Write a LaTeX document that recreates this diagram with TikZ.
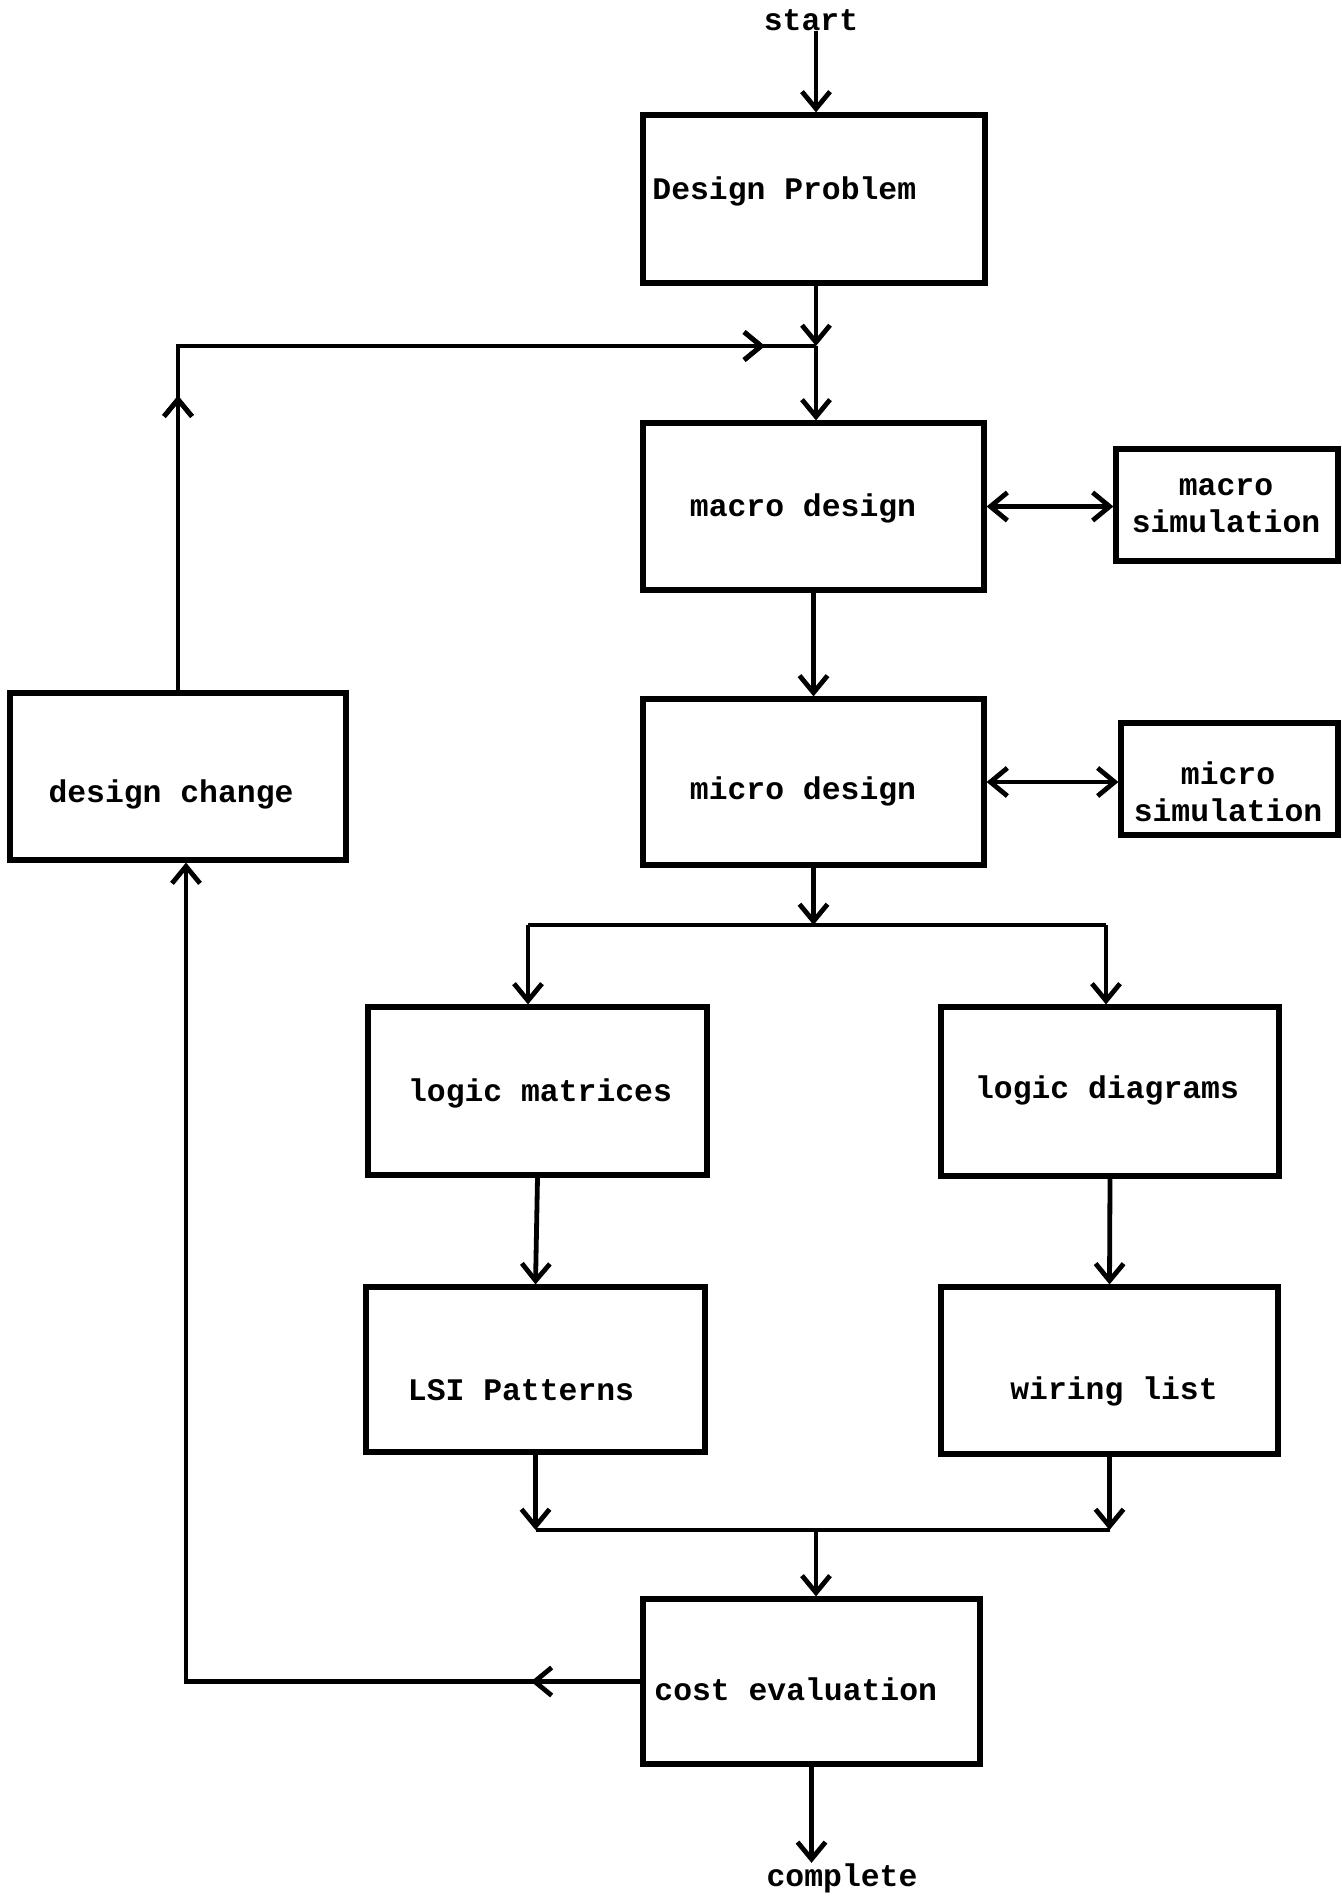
\documentclass[tikz,border=0pt]{standalone}
\usepackage{fontspec}
\setmonofont{Liberation Mono}
\usetikzlibrary{arrows.meta,decorations.markings}
\begin{document}
\begin{tikzpicture}[x=0.5pt,y=-0.5pt,
  box/.style={draw, line width=2.6pt, inner sep=0pt},
  lbl/.style={font=\ttfamily\bfseries\fontsize{15.7}{18.5}\selectfont, inner sep=0pt},
  conn/.style={line width=2.4pt},
  tip/.tip={Straight Barb[length=8.5pt,width=14pt]},
  arr/.style={-tip},
  midarr/.style={postaction={decorate}, decoration={markings, mark=at position #1 with {\arrow{tip}}}}
]
\useasboundingbox (0,0) rectangle (1341,1899);

% boxes
\node[box, minimum width=171pt, minimum height=84pt] (dp) at (814,199) {};
\node[box, minimum width=170.5pt, minimum height=83.5pt] (macro) at (813.5,506.5) {};
\node[box, minimum width=111pt, minimum height=56pt] (msim) at (1227,505) {};
\node[box, minimum width=170.5pt, minimum height=83pt] (micro) at (813.5,782) {};
\node[box, minimum width=108.5pt, minimum height=56pt] (usim) at (1229.5,779) {};
\node[box, minimum width=168pt, minimum height=83.5pt] (dc) at (178,776.5) {};
\node[box, minimum width=169.5pt, minimum height=84pt] (lm) at (537.5,1091) {};
\node[box, minimum width=169pt, minimum height=84.5pt] (ld) at (1110,1091.5) {};
\node[box, minimum width=169.5pt, minimum height=82.5pt] (lsi) at (535.5,1369.5) {};
\node[box, minimum width=168.5pt, minimum height=83.5pt] (wl) at (1109.5,1370.5) {};
\node[box, minimum width=168.5pt, minimum height=82.5pt] (ce) at (811.5,1681.5) {};

% texts
\node[lbl, anchor=base] (tstart) at (811,31) {start};
\node[lbl, anchor=base west] (tdp) at (652,200) {Design Problem};
\node[lbl, anchor=base] (tmacro) at (803,516) {macro design};
\node[lbl, align=center] (tmsim) at (1226,506) {macro\\simulation};
\node[lbl, anchor=base] (tmicro) at (803,799) {micro design};
\node[lbl, align=center] (tusim) at (1228,792) {micro\\simulation};
\node[lbl, anchor=base] (tdc) at (171,802) {design change};
\node[lbl, anchor=base] (tlm) at (540,1101) {logic matrices};
\node[lbl, anchor=base] (tld) at (1107,1098) {logic diagrams};
\node[lbl, anchor=base] (tlsi) at (521,1400) {LSI Patterns};
\node[lbl, anchor=base] (twl) at (1114,1399) {wiring list};
\node[lbl, anchor=base west] (tce) at (654,1700) {cost evaluation};
\node[lbl, anchor=base] (tcomplete) at (842,1886) {complete};

% junction points
\coordinate (J1) at (816,346);
\coordinate (J2L) at (528,925);
\coordinate (J2R) at (1106,925);
\coordinate (M) at (816,1530);
\coordinate (B) at (186,1682);

% connectors
\draw[conn, arr] (J1 |- tstart.base) -- (J1 |- dp.north);
\draw[conn, arr] (J1 |- dp.south) -- (J1);
\draw[conn, arr] (J1) -- (J1 |- macro.north);
\draw[conn, midarr=0.30, midarr=0.948] (dc.north) -- (dc.north |- J1) -- (J1);
\draw[conn, tip-tip] (macro.east) -- (macro.east -| msim.west);
\draw[conn, tip-tip] (micro.east) -- (micro.east -| usim.west);
\draw[conn, arr] (macro.south) -- (micro.north);
\draw[conn, arr] (micro.south) -- (micro.south |- J2L);
\draw[conn] (J2L) -- (J2R);
\draw[conn, arr] (J2L) -- (J2L |- lm.north);
\draw[conn, arr] (J2R) -- (J2R |- ld.north);
\draw[conn, arr] (lm.south) -- (lsi.north);
\draw[conn, arr] (ld.south) -- (wl.north);
\draw[conn, arr] (lsi.south) -- (lsi.south |- M);
\draw[conn, arr] (wl.south) -- (wl.south |- M);
\draw[conn] (lsi.south |- M) -- (wl.south |- M);
\draw[conn, arr] (M) -- (M |- ce.north);
\draw[conn, arr, midarr=0.086] (ce.west) -- (ce.west -| B) -- (B |- dc.south);
\draw[conn, arr] (ce.south) -- (ce.south |- tcomplete.north);
\end{tikzpicture}
\end{document}
